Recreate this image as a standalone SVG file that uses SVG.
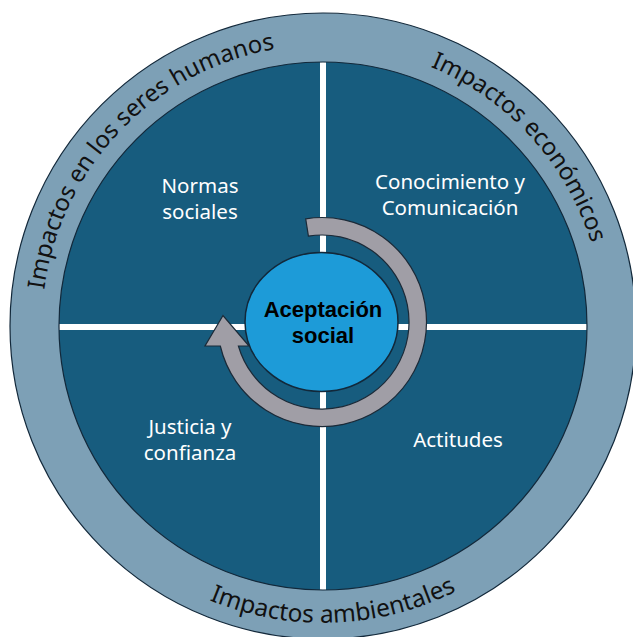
<svg xmlns="http://www.w3.org/2000/svg" width="633" height="637" viewBox="0 0 633 637">
  <style>
    .ring { fill: #7da0b6; stroke: #12283a; stroke-width: 1.2; }
    .inner { fill: #175c7e; }
    .innerline { fill: none; stroke: #12283a; stroke-width: 1.2; }
    .div { stroke: #ffffff; stroke-width: 6; }
    .ringtxt { font-family: "Noto Sans", "Open Sans", sans-serif; font-size: 24px; fill: #111111; }
    .qtxt { font-family: "Noto Sans", "Open Sans", sans-serif; font-size: 20.5px; fill: #ffffff; text-anchor: middle; }
    .ctxt { font-family: "Liberation Sans", Arial, sans-serif; font-size: 22px; font-weight: bold; fill: #000000; text-anchor: middle; }
    .arrow { fill: #a09ea6; stroke: #1b2a38; stroke-width: 1.2; stroke-linejoin: miter; }
    .core { fill: #1d9bd8; stroke: #12283a; stroke-width: 1.5; }
  </style>
  <defs>
    <path id="p1" d="M111.6,511.1 A281,281 0 0 1 499.1,107.0"/>
    <path id="p2" d="M152.7,102.5 A281,281 0 0 1 529.6,516.4"/>
    <path id="p3" d="M28.3,362.7 A297,297 0 0 0 619.6,341.0"/>
  </defs>

  <g id="outer-ring">
    <circle class="ring" cx="323" cy="326" r="313"/>
    <text class="ringtxt"><textPath href="#p1" startOffset="50%" text-anchor="middle">Impactos en los seres humanos</textPath></text>
    <text class="ringtxt"><textPath href="#p2" startOffset="50%" text-anchor="middle">Impactos económicos</textPath></text>
    <text class="ringtxt" style="font-size:24.5px"><textPath href="#p3" startOffset="50%" text-anchor="middle">Impactos ambientales</textPath></text>
  </g>

  <g id="quadrants">
    <circle class="inner" cx="323" cy="326" r="264"/>
    <line class="div" x1="323" y1="62" x2="323" y2="590"/>
    <line class="div" x1="59" y1="327" x2="587" y2="327"/>
    <circle class="innerline" cx="323" cy="326" r="264"/>
  </g>

  <g id="normas-sociales">
    <text class="qtxt" x="200" y="193">Normas<tspan x="200" dy="26">sociales</tspan></text>
  </g>
  <g id="conocimiento-comunicacion">
    <text class="qtxt" x="450" y="189">Conocimiento y<tspan x="450" dy="26">Comunicación</tspan></text>
  </g>
  <g id="justicia-confianza">
    <text class="qtxt" x="190" y="434">Justicia y<tspan x="190" dy="26">confianza</tspan></text>
  </g>
  <g id="actitudes">
    <text class="qtxt" x="458" y="447">Actitudes</text>
  </g>

  <g id="connectors">
    <path class="arrow" d="M305.7,218.8 A104.5,104.5 0 1 1 220.3,346 L205,346 L223,315.5 L249,346 L238.4,346 A87,87 0 1 0 308.4,236.1 Z"/>
  </g>

  <g id="aceptacion-social">
    <ellipse class="core" cx="321.5" cy="322" rx="76.5" ry="69.5"/>
    <text class="ctxt" x="323" y="317">Aceptación<tspan x="323" dy="26">social</tspan></text>
  </g>
</svg>
